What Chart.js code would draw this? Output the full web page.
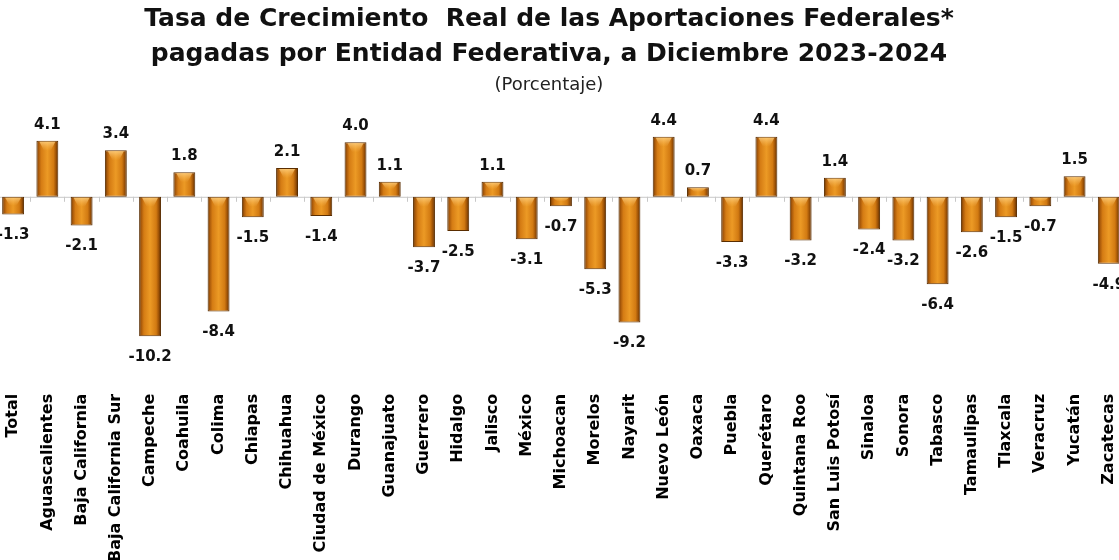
<!DOCTYPE html>
<html>
<head>
<meta charset="utf-8">
<script src="https://cdn.jsdelivr.net/npm/chart.js@4"></script>
<style>
  body { margin: 0; background: #fff; overflow: hidden; width: 1119px; height: 560px; position: relative; }
  #wrap { position: absolute; left: -4px; top: 0; }
  .titulo { position: absolute; left: 0; width: 1098px; text-align: center; font-family: 'DejaVu Sans', sans-serif; color: #111; z-index: 2; white-space: pre; }
  #t1 { top: 0; font-size: 25px; font-weight: bold; line-height: 35px; }
  #t2 { top: 73px; font-size: 18px; line-height: 22px; color: #222; }
</style>
</head>
<body>
<div id="t1" class="titulo"></div>
<div id="t2" class="titulo"></div>
<div id="wrap"><canvas id="chart" width="1142" height="572"></canvas></div>
<script>
const entidades = ['Total','Aguascalientes','Baja California','Baja California Sur','Campeche','Coahuila','Colima','Chiapas','Chihuahua','Ciudad de México','Durango','Guanajuato','Guerrero','Hidalgo','Jalisco','México','Michoacan','Morelos','Nayarit','Nuevo León','Oaxaca','Puebla','Querétaro','Quintana Roo','San Luis Potosí','Sinaloa','Sonora','Tabasco','Tamaulipas','Tlaxcala','Veracruz','Yucatán','Zacatecas'];
const crecimiento = [-1.3, 4.1, -2.1, 3.4, -10.2, 1.8, -8.4, -1.5, 2.1, -1.4, 4.0, 1.1, -3.7, -2.5, 1.1, -3.1, -0.7, -5.3, -9.2, 4.4, 0.7, -3.3, 4.4, -3.2, 1.4, -2.4, -3.2, -6.4, -2.6, -1.5, -0.7, 1.5, -4.9];
const titulo = ['Tasa de Crecimiento  Real de las Aportaciones Federales*', 'pagadas por Entidad Federativa, a Diciembre 2023-2024'];
const subtitulo = '(Porcentaje)';

document.getElementById('t1').textContent = titulo.join('\n');
document.getElementById('t2').textContent = subtitulo;

const FONT = "'DejaVu Sans', sans-serif";
const BAR_FRAC = 0.64;

function barGradient(ctx) {
  const chart = ctx.chart;
  const xs = chart.scales.x;
  if (!xs || ctx.dataIndex === undefined) return '#d9800f';
  const cx = xs.getPixelForValue(ctx.dataIndex);
  const step = xs.getPixelForValue(1) - xs.getPixelForValue(0);
  if (!isFinite(cx) || !isFinite(step) || step <= 0) return '#d9800f';
  const half = step * BAR_FRAC / 2;
  const g = chart.ctx.createLinearGradient(cx - half, 0, cx + half, 0);
  g.addColorStop(0, '#5e2f00');
  g.addColorStop(0.1, '#a9590a');
  g.addColorStop(0.22, '#d57c14');
  g.addColorStop(0.5, '#ec9a25');
  g.addColorStop(0.78, '#d27a12');
  g.addColorStop(0.9, '#9a5006');
  g.addColorStop(1, '#552900');
  return g;
}

// linea de cero con marcas entre categorias
const zeroAxis = {
  id: 'zeroAxis',
  beforeDatasetsDraw(chart) {
    const { ctx, scales: { x, y } } = chart;
    const y0 = y.getPixelForValue(0);
    const step = x.getPixelForValue(1) - x.getPixelForValue(0);
    ctx.save();
    ctx.strokeStyle = '#c8c8c8';
    ctx.lineWidth = 1;
    ctx.beginPath();
    ctx.moveTo(chart.chartArea.left, y0 + 0.5);
    ctx.lineTo(chart.chartArea.right, y0 + 0.5);
    for (let i = 0; i <= entidades.length; i++) {
      const px = Math.round(x.getPixelForValue(i) - step / 2) + 0.5;
      ctx.moveTo(px, y0);
      ctx.lineTo(px, y0 + 5);
    }
    ctx.stroke();
    ctx.restore();
  }
};

// brillo superior (bisel) y etiquetas de valor
const barLabels = {
  id: 'barLabels',
  afterDatasetsDraw(chart) {
    const { ctx } = chart;
    const meta = chart.getDatasetMeta(0);
    ctx.save();
    meta.data.forEach((bar, i) => {
      const v = crecimiento[i];
      const top = Math.min(bar.y, bar.base);
      const h = Math.abs(bar.base - bar.y);
      const half = bar.width / 2;
      const bh = Math.min(10, h / 2);
      if (bh > 0) {
        const g = ctx.createLinearGradient(0, top, 0, top + bh);
        g.addColorStop(0, 'rgba(255,214,140,0.85)');
        g.addColorStop(1, 'rgba(255,190,90,0)');
        ctx.fillStyle = g;
        ctx.beginPath();
        ctx.moveTo(bar.x - half + 3, top + 1);
        ctx.lineTo(bar.x + half - 3, top + 1);
        ctx.lineTo(bar.x + half * 0.3, top + bh);
        ctx.lineTo(bar.x - half * 0.3, top + bh);
        ctx.closePath();
        ctx.fill();
      }

      ctx.fillStyle = '#111';
      ctx.font = 'bold 15px ' + FONT;
      ctx.textAlign = 'center';
      ctx.textBaseline = 'middle';
      const txt = v.toFixed(1);
      if (v >= 0) ctx.fillText(txt, bar.x, bar.y - 16);
      else ctx.fillText(txt, bar.x, bar.y + 21);
    });
    ctx.restore();
  }
};

new Chart(document.getElementById('chart'), {
  type: 'bar',
  data: {
    labels: entidades,
    datasets: [{
      data: crecimiento,
      backgroundColor: barGradient,
      borderColor: '#5a2d00',
      borderWidth: 1,
      borderSkipped: false,
      barPercentage: 0.8,
      categoryPercentage: 0.8
    }]
  },
  options: {
    responsive: false,
    animation: false,
    layout: { padding: { top: 108, bottom: 0, left: 0, right: 0 } },
    plugins: {
      legend: { display: false },
      tooltip: { enabled: false },
      title: { display: false },
      subtitle: { display: false }
    },
    scales: {
      x: {
        grid: { display: false },
        border: { display: false },
        ticks: {
          autoSkip: false,
          maxRotation: 90,
          minRotation: 90,
          padding: 10,
          color: '#000',
          font: { family: FONT, size: 16, weight: 'bold' }
        }
      },
      y: {
        min: -13.1,
        max: 6.5,
        display: false
      }
    }
  },
  plugins: [zeroAxis, barLabels]
});
</script>
</body>
</html>
